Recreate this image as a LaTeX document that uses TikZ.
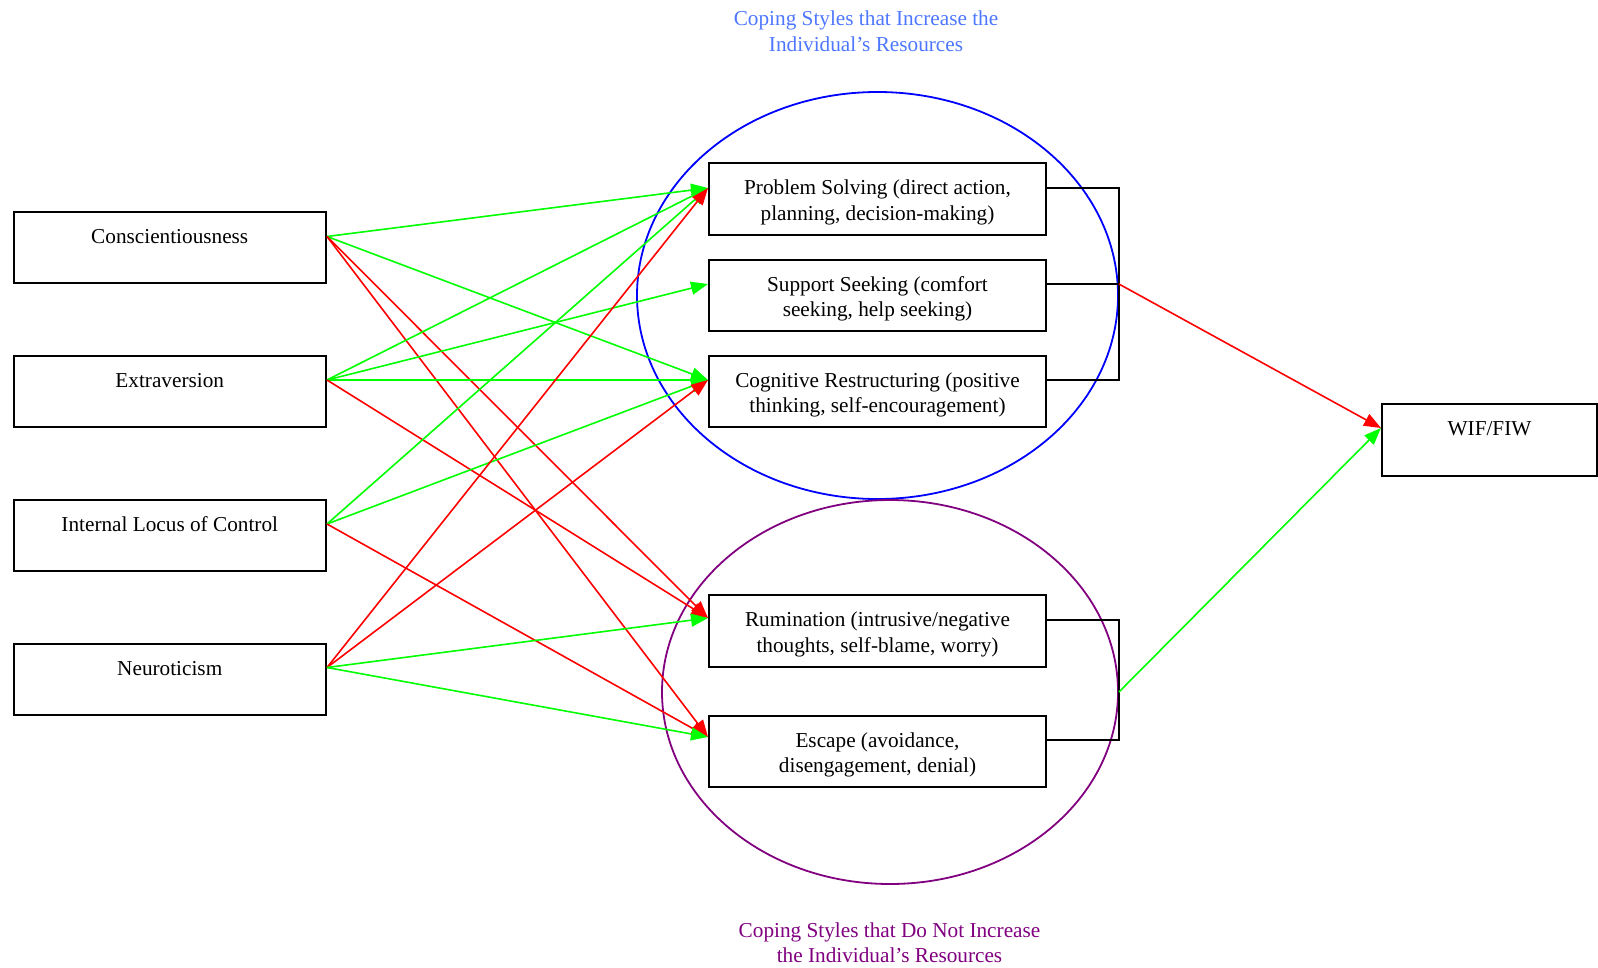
\documentclass[tikz,border=0pt]{standalone}
\usepackage{fontspec}
\setmainfont{Liberation Serif}
\usetikzlibrary{arrows.meta,shapes.geometric,calc}
\definecolor{lblblue}{RGB}{77,119,255}
\definecolor{lblpurple}{RGB}{128,0,128}
\definecolor{pgreen}{RGB}{0,255,0}
\definecolor{pred}{RGB}{255,0,0}
\begin{document}
\begin{tikzpicture}[x=1pt,y=-1pt,
  every node/.style={font=\fontsize{21.25}{25.5}\selectfont},
  box/.style={draw,line width=2pt,rectangle,align=center,inner sep=0pt},
  lbox/.style={box,minimum width=312.5pt,minimum height=71pt},
  mbox/.style={box,minimum width=337pt,minimum height=71.5pt},
  posarr/.style={draw=pgreen,line width=1.6pt,-{Triangle[length=17pt,width=13pt]}},
  negarr/.style={draw=pred,line width=1.6pt,-{Triangle[length=17pt,width=13pt]}},
  brk/.style={draw=black,line width=1.8pt},
  grp/.style={ellipse,draw,line width=1.8pt,inner sep=0pt}
]
\useasboundingbox (0,0) rectangle (1598,967);

% groups
\node[grp,draw=blue,minimum width=481pt,minimum height=407pt] (G1) at (877.5,295.5) {};
\node[grp,draw=lblpurple,minimum width=456pt,minimum height=384pt] (G2) at (890,692) {};

\node[text=lblblue,align=center] (T1) at (866,33.3) {\strut Coping Styles that Increase the\\\strut Individual’s Resources};
\node[text=lblpurple,align=center] (T2) at (889.5,945) {\strut Coping Styles that Do Not Increase\\\strut the Individual’s Resources};

% left boxes
\node[lbox] (C) at (169.75,247.5) {\strut Conscientiousness\\[-7pt]\strut};
\node[lbox] (E) at (169.75,391.5) {\strut Extraversion\\[-7pt]\strut};
\node[lbox] (L) at (169.75,535.5) {\strut Internal Locus of Control\\[-7pt]\strut};
\node[lbox] (N) at (169.75,679.5) {\strut Neuroticism\\[-7pt]\strut};

% middle boxes
\node[mbox] (PS) at (877.5,199) {\strut\\[-19pt]\strut Problem Solving (direct action,\\\strut planning, decision-making)};
\node[mbox] (SS) at (877.5,295.5) {\strut\\[-19pt]\strut Support Seeking (comfort\\\strut seeking, help seeking)};
\node[mbox] (CR) at (877.5,391.5) {\strut\\[-19pt]\strut Cognitive Restructuring (positive\\\strut thinking, self-encouragement)};
\node[mbox] (RU) at (877.5,631) {\strut\\[-19pt]\strut Rumination (intrusive/negative\\\strut thoughts, self-blame, worry)};
\node[mbox] (ES) at (877.5,751.5) {\strut\\[-19pt]\strut Escape (avoidance,\\\strut disengagement, denial)};

% outcome
\node[box,minimum width=215pt,minimum height=72pt] (W) at (1489.5,440) {\strut WIF/FIW\\[-7pt]\strut};

% ports
\coordinate (Co) at ([yshift=11pt]C.east);
\coordinate (Eo) at ([yshift=11.5pt]E.east);
\coordinate (Lo) at ([yshift=11.5pt]L.east);
\coordinate (No) at ([yshift=12pt]N.east);
\coordinate (PSi) at ([yshift=11pt]PS.west);
\coordinate (SSi) at ([yshift=11.5pt]SS.west);
\coordinate (CRi) at ([yshift=11.5pt]CR.west);
\coordinate (RUi) at ([yshift=13pt]RU.west);
\coordinate (ESi) at ([yshift=14.5pt]ES.west);
\coordinate (PSo) at ([yshift=11pt]PS.east);
\coordinate (SSo) at ([yshift=11.5pt]SS.east);
\coordinate (CRo) at ([yshift=11.5pt]CR.east);
\coordinate (RUo) at ([yshift=11pt]RU.east);
\coordinate (ESo) at ([yshift=11.5pt]ES.east);
\coordinate (Wi) at ([yshift=12pt]W.west);
\coordinate (Ub) at (SSo -| G1.east);

% connectors from traits
\draw[posarr] (Co) -- (PSi);
\draw[posarr] (Co) -- (CRi);
\draw[negarr] (Co) -- (RUi);
\draw[negarr] (Co) -- (ESi);
\draw[posarr] (Eo) -- (PSi);
\draw[posarr] (Eo) -- (SSi);
\draw[posarr] (Eo) -- (CRi);
\draw[negarr] (Eo) -- (RUi);
\draw[posarr] (Lo) -- (PSi);
\draw[posarr] (Lo) -- (CRi);
\draw[negarr] (Lo) -- (ESi);
\draw[negarr] (No) -- (PSi);
\draw[negarr] (No) -- (CRi);
\draw[posarr] (No) -- (RUi);
\draw[posarr] (No) -- (ESi);

% brackets
\draw[brk] (PSo) -- (PSo -| G1.east) -- (CRo -| G1.east) -- (CRo);
\draw[brk] (SSo) -- (Ub);
\draw[brk] (RUo) -- (RUo -| G2.east) -- (ESo -| G2.east) -- (ESo);

% to outcome
\draw[negarr] (Ub) -- (Wi);
\draw[posarr] (G2.east) -- (Wi);
\end{tikzpicture}
\end{document}
